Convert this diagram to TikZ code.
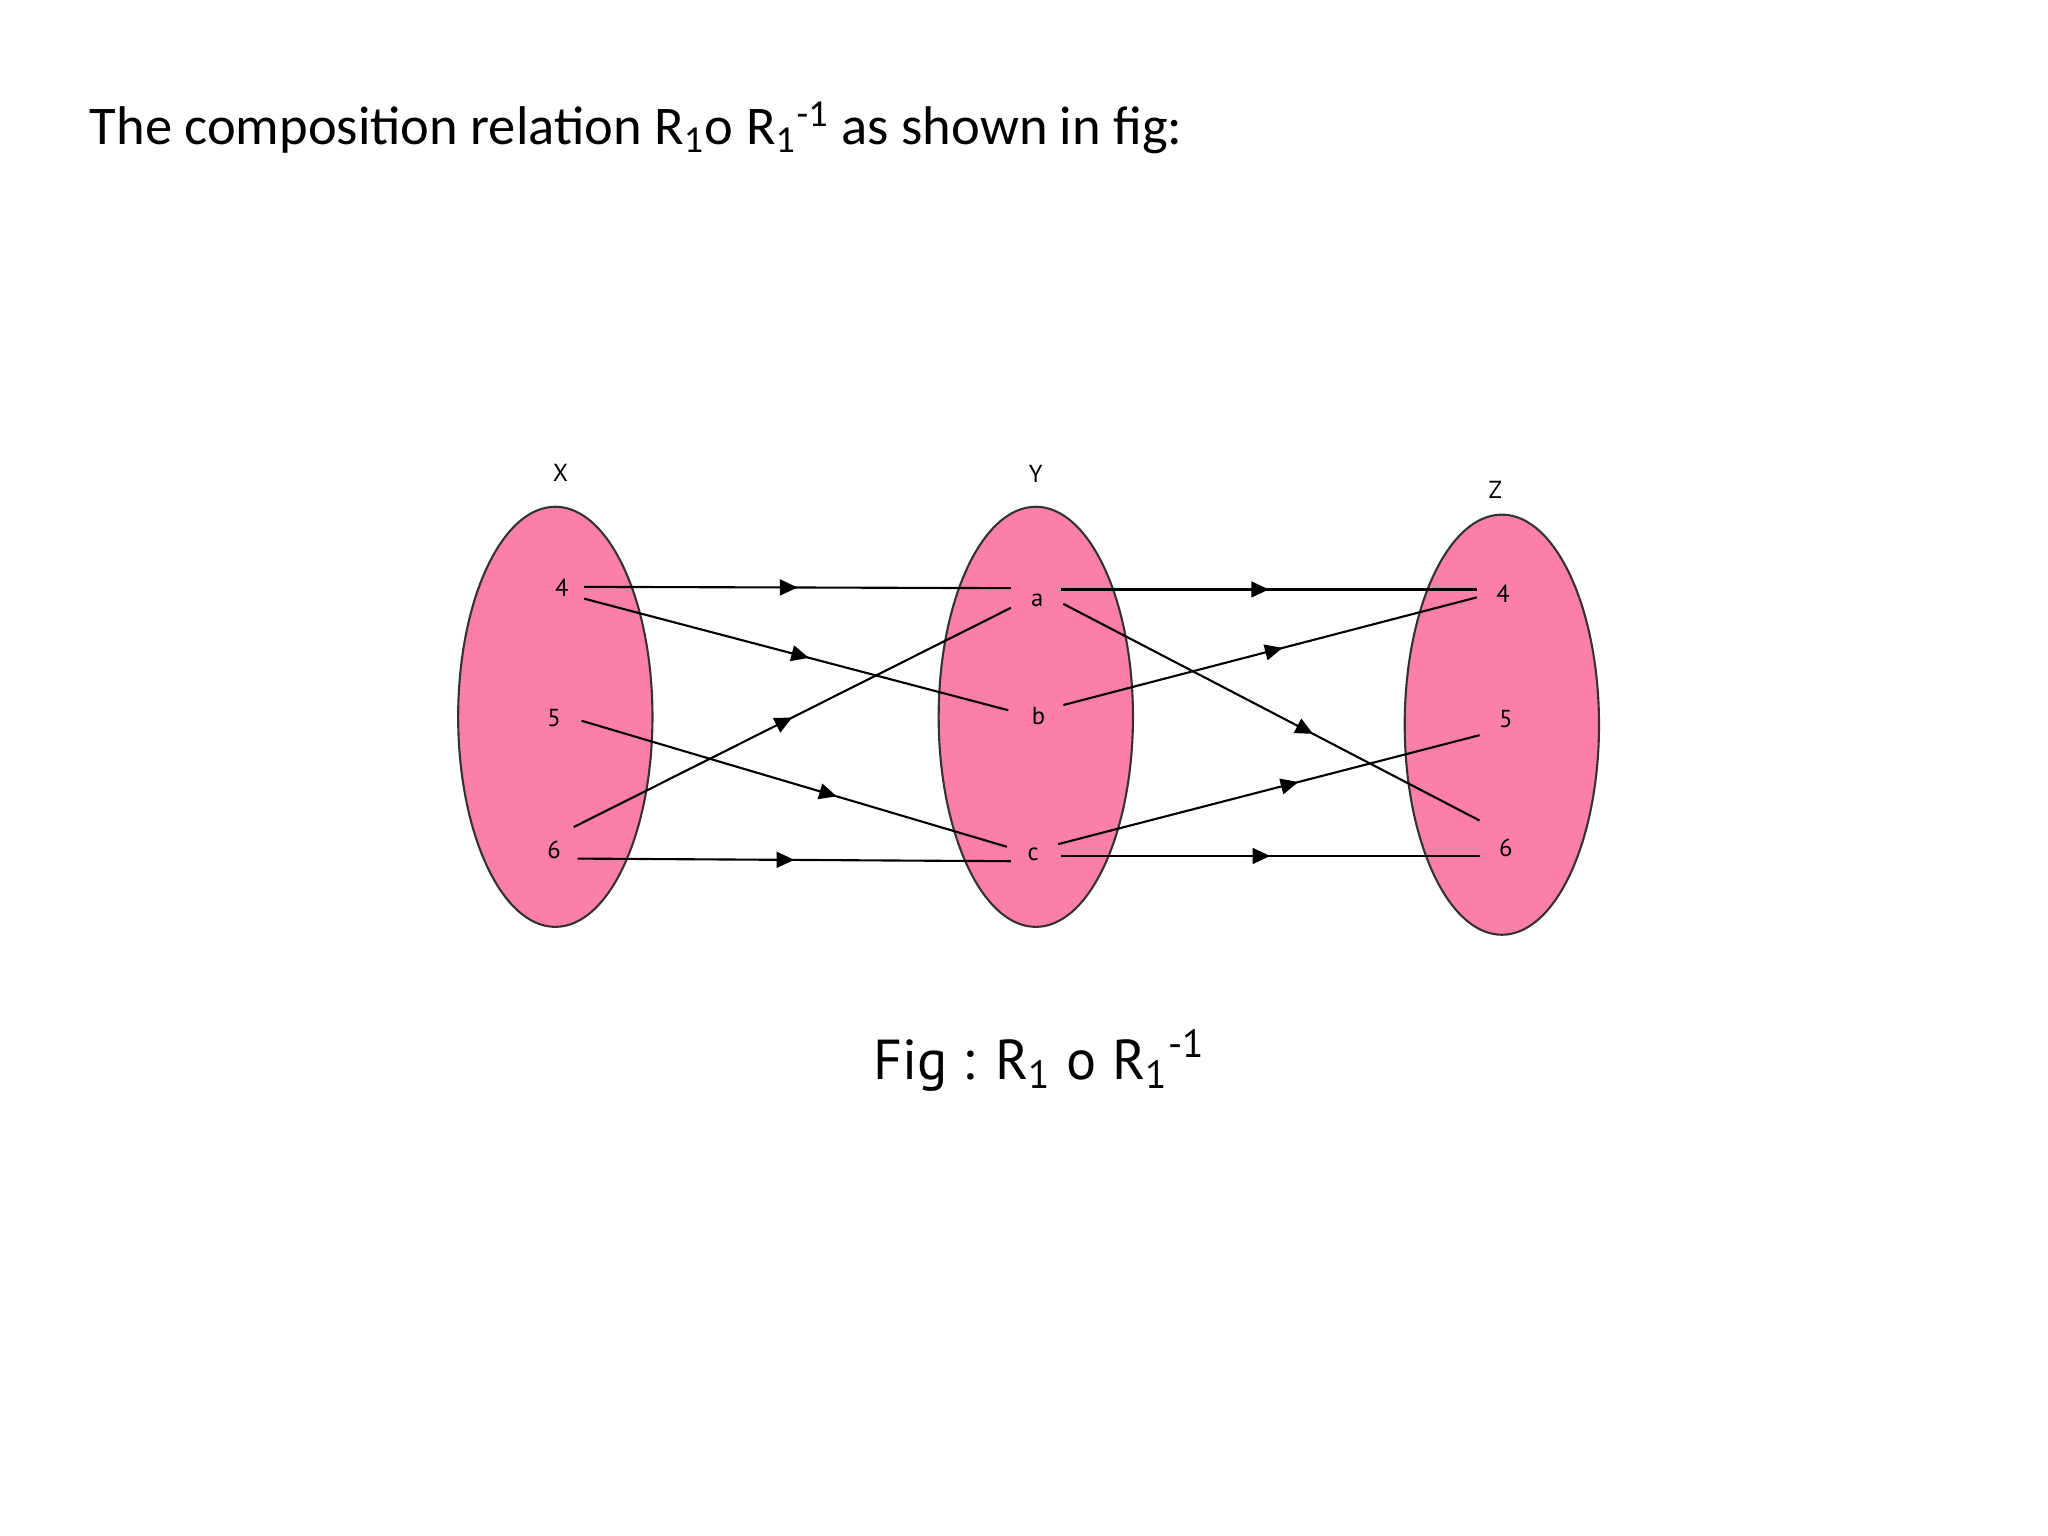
\documentclass[tikz,border=0pt]{standalone}
\usepackage{fontspec}
\setmainfont{Carlito}
\newfontfamily\capfont{PT Sans}
\usetikzlibrary{decorations.markings,arrows.meta}
\definecolor{setpink}{RGB}{252,126,170}
\begin{document}
\begin{tikzpicture}[x=0.013128cm,y=-0.013128cm,
  setell/.style={draw=black!80,fill=setpink,line width=0.6pt},
  lbl/.style={font=\capfont\fontsize{7}{8}\selectfont,inner sep=0pt},
  rel/.style={line width=0.6pt,postaction={decorate},decoration={markings,mark=at position #1 with {\arrow{Triangle[length=5pt,width=4.5pt]}}}},
  rel/.default=0.5]
\useasboundingbox (0,0) rectangle (1560,1170);
\node[anchor=base west,inner sep=0pt,font=\fontsize{15.5}{18}\selectfont] (title) at (68,110) {The composition relation R\textsubscript{1}o R\textsubscript{1}\textsuperscript{-1} as shown in fig:};
\draw[setell] (423,546) ellipse [x radius=74,y radius=160];
\draw[setell] (789,546) ellipse [x radius=74,y radius=160];
\draw[setell] (1144,552) ellipse [x radius=74,y radius=160];
\node[lbl] (X) at (427,360) {X};
\node[lbl] (Y) at (789,361) {Y};
\node[lbl] (Z) at (1139,373) {Z};
\node[lbl] (x4) at (428,448) {4};
\node[lbl] (x5) at (422,547) {5};
\node[lbl] (x6) at (422,647) {6};
\node[lbl] (ya) at (790,457) {a};
\node[lbl] (yb) at (791,545) {b};
\node[lbl] (yc) at (787,651) {c};
\node[lbl] (z4) at (1145,452) {4};
\node[lbl] (z5) at (1147,548) {5};
\node[lbl] (z6) at (1147,646) {6};
% end points
\coordinate (x4a) at (445,447); \coordinate (a4) at (770,448);
\coordinate (x4b) at (445,456); \coordinate (b4) at (768,541);
\coordinate (x5c) at (443,549); \coordinate (c5) at (767,645);
\coordinate (x6a) at (437,630); \coordinate (a6) at (770,463);
\coordinate (x6c) at (440,654); \coordinate (c6) at (770,656);
\coordinate (aR4) at (808,449); \coordinate (z4a) at (1125,449);
\coordinate (bR) at (810,537); \coordinate (z4b) at (1125,455);
\coordinate (aR6) at (810,460); \coordinate (z6a) at (1127,625);
\coordinate (cR5) at (806,643); \coordinate (z5c) at (1127,560);
\coordinate (cR6) at (808,652); \coordinate (z6c) at (1127,652);
\draw[rel] (x4a) -- (a4);
\draw[rel=0.53] (x4b) -- (b4);
\draw[rel=0.6] (x5c) -- (c5);
\draw[rel=0.5] (x6a) -- (a6);
\draw[rel] (x6c) -- (c6);
\draw[rel] (aR4) -- (z4a);
\draw[rel=0.53] (bR) -- (z4b);
\draw[rel=0.6] (aR6) -- (z6a);
\draw[rel=0.57] (cR5) -- (z5c);
\draw[rel] (cR6) -- (z6c);
\node[font=\capfont\fontsize{16}{18}\selectfont,inner sep=0pt] (cap) at (792,808) {Fig : R\textsubscript{1} o R\textsubscript{1}\textsuperscript{-1}};
\end{tikzpicture}
\end{document}
